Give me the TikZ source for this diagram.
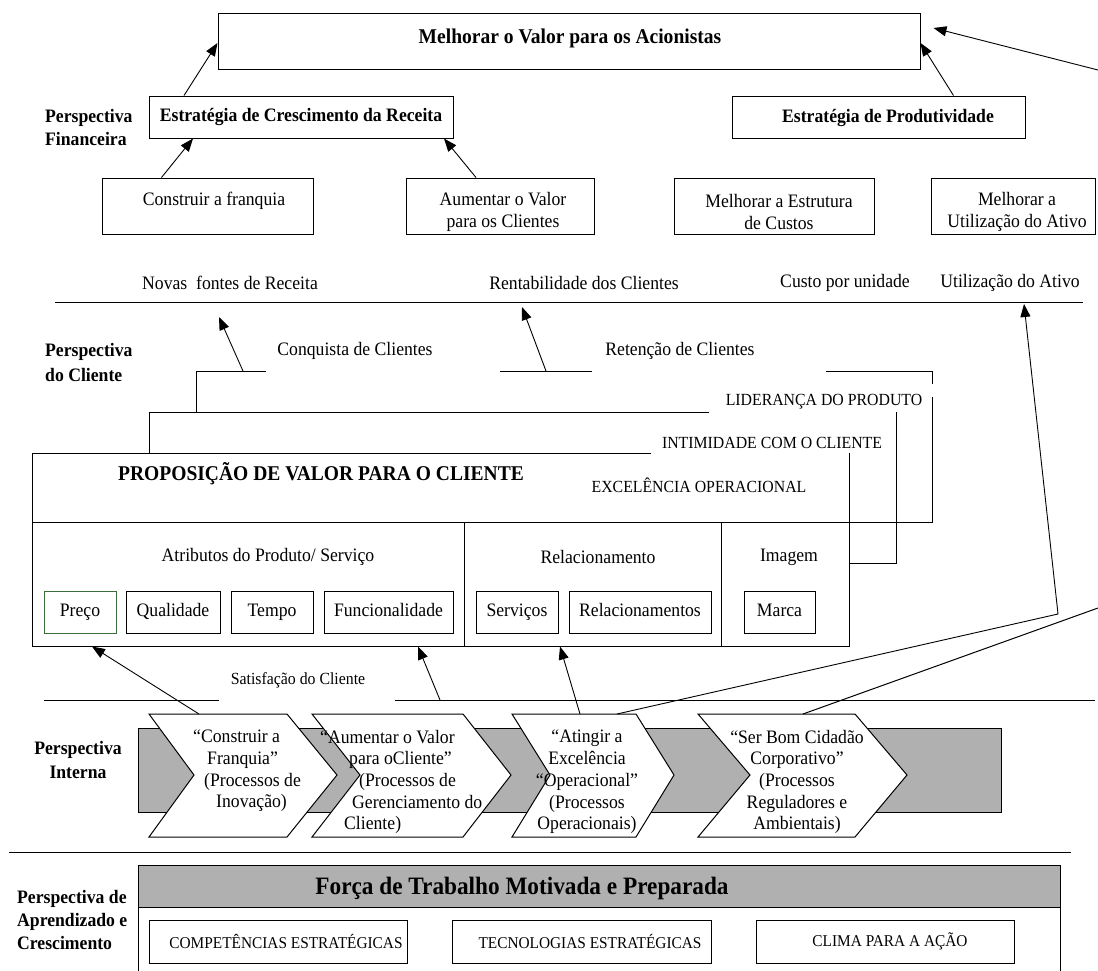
\documentclass[tikz,border=0pt]{standalone}
\usepackage{fontspec}
\setmainfont{Liberation Serif}[FakeStretch=0.93]
\usetikzlibrary{arrows.meta,calc}
\definecolor{band}{gray}{0.69}
\definecolor{pgreen}{RGB}{60,110,60}
\newcommand\pfs[2]{\fontsize{#1}{#2}\selectfont}
\begin{document}
\begin{tikzpicture}[x=1pt,y=-1pt,
  every node/.style={inner sep=0pt},
  line/.style={line width=1pt, draw=black},
  box/.style={draw=black, line width=1pt, fill=white},
  sbox/.style={draw=black, line width=1pt, fill=white, minimum height=42pt,
    font=\pfs{19}{21.7}, text height=13pt, text depth=4pt},
  lbox/.style={draw=black, line width=1pt, fill=white, minimum height=43pt},
  chev/.style={draw=black, line width=1pt, fill=white, line join=miter},
  arr/.style={line width=0.9pt, -{Triangle[length=13pt,width=10pt]}},
  reg/.style={font=\pfs{19}{21.7}},
  bld/.style={font=\bfseries\pfs{19}{23}},
  big/.style={font=\bfseries\pfs{21}{24}},
  caps/.style={font=\pfs{17}{20}},
  scaps/.style={font=\pfs{16.5}{19}},
]
\fill[white] (0,0) rectangle (1098,970);
\useasboundingbox (0,0) rectangle (1098,970);

% ---------- financial perspective ----------
\node[box, minimum width=702pt, minimum height=56pt] (T) at (569,41) {};
\node[big] (Tt) at (570,38) {Melhorar o Valor para os Acionistas};

\node[box, bld, minimum width=304pt, minimum height=42pt] (ECR) at (301,117)
  {Estratégia de Crescimento da Receita};
\node[box, minimum width=293pt, minimum height=42pt] (EP) at (878.5,117) {};
\node[bld] (EPt) at (888,118) {Estratégia de Produtividade};

\node[bld, align=left, anchor=west] (pf) at (45,127) {Perspectiva\\Financeira};

\node[box, minimum width=211pt, minimum height=56pt] (CF) at (207.5,206) {};
\node[reg] (CFt) at (214,201) {Construir a franquia};
\node[box, minimum width=188pt, minimum height=56pt] (AV) at (500,206) {};
\node[reg, align=center] (AVt) at (503,212) {Aumentar o Valor\\para os Clientes};
\node[box, minimum width=200pt, minimum height=56pt] (ME) at (774,206) {};
\node[reg, align=center] (MEt) at (779,212) {Melhorar a Estrutura\\de Custos};
\node[box, minimum width=164pt, minimum height=56pt] (MU) at (1013,206) {};
\node[reg, align=center] (MUt) at (1017,212) {Melhorar a\\Utilização do Ativo};

\draw[arr] ([xshift=-117pt]ECR.north) -- ([yshift=-2pt]T.west);
\draw[arr] ([xshift=75pt]EP.north) -- ([yshift=-2pt]T.east);
\draw[arr] ([xshift=-46pt]CF.north) -- ([xshift=-108pt]ECR.south);
\draw[arr] ([xshift=-24pt]AV.north) -- ([xshift=143pt]ECR.south);

\node[reg] (nfr) at (230,283) {Novas\ \ fontes de Receita};
\node[reg] (rdc) at (584,283) {Rentabilidade dos Clientes};
\node[reg] (cpu) at (845,283) {Custo por unidade};
\node[reg] (uda) at (1010,283) {Utilização do Ativo};

\draw[line] (55,302) -- (1083,302);

% ---------- customer perspective ----------
\node[bld, align=left, anchor=west, font=\bfseries\pfs{19}{25}] (pc) at (45,362) {Perspectiva\\do Cliente};
\node[reg] (cq) at (355,351) {Conquista de Clientes};
\node[reg] (rt) at (680,351) {Retenção de Clientes};

% stacked value-proposition sheets (visible edges only)
\draw[line] (196,412) -- (196,371) -- (266,371);
\draw[line] (500,371) -- (592,371);
\draw[line] (826,371) -- (932,371) -- (932,384);
\draw[line] (932,397) -- (932,522) -- (849,522);
\draw[line] (149,453) -- (149,412) -- (709,412);
\draw[line] (849,563) -- (896,563) -- (896,412);
\draw[line] (651,453) -- (32,453) -- (32,646) -- (849,646) -- (849,453);
\draw[line] (32,522) -- (849,522);
\draw[line] (464,522) -- (464,646);
\draw[line] (721,522) -- (721,646);

\node[caps] (lid) at (824,402) {LIDERANÇA DO PRODUTO};
\node[caps] (int) at (772,443) {INTIMIDADE COM O CLIENTE};
\node[caps] (exc) at (699,485) {EXCELÊNCIA OPERACIONAL};
\node[big] (pvc) at (321,474) {PROPOSIÇÃO DE VALOR PARA O CLIENTE};

\node[reg] (atr) at (268,557) {Atributos do Produto/ Serviço};
\node[reg] (rel) at (598,557) {Relacionamento};
\node[reg] (img) at (789,557) {Imagem};

\node[sbox, draw=pgreen, minimum width=72pt] (pre) at (80,612) {Preço};
\node[sbox, minimum width=94pt] (qua) at (173,612) {Qualidade};
\node[sbox, minimum width=82pt] (tem) at (272,612) {Tempo};
\node[sbox, minimum width=129pt] (fun) at (388.5,612) {Funcionalidade};
\node[sbox, minimum width=82pt] (ser) at (517,612) {Serviços};
\node[sbox, minimum width=142pt] (rls) at (640,612) {Relacionamentos};
\node[sbox, minimum width=71pt] (mar) at (779.5,612) {Marca};

\coordinate (cqa) at (243,371);
\coordinate (cqb) at (219,317);
\coordinate (rta) at (546,371);
\coordinate (rtb) at (522,307);
\draw[arr] (cqa) -- (cqb);
\draw[arr] (rta) -- (rtb);

\node[font=\pfs{17}{20}] (sat) at (298,680) {Satisfação do Cliente};
\draw[line] (44,700) -- (219,700);
\draw[line] (395,700) -- (1095,700);

% ---------- internal perspective ----------
\node[bld, align=center, font=\bfseries\pfs{19}{24}] (pi) at (78,760) {Perspectiva\\Interna};

\draw[line, fill=band] (138,728) rectangle (1001,812);
\draw[chev] (149,714) -- (287,714) -- (337,775) -- (287,837) -- (149,837) -- (194,775) -- cycle;
\draw[chev] (312,714) -- (463,714) -- (511,775) -- (463,837) -- (312,837) -- (360,775) -- cycle;
\draw[chev] (512,714) -- (636,714) -- (674,775) -- (636,837) -- (512,837) -- (550,775) -- cycle;
\draw[chev] (698,714) -- (855,714) -- (907,775) -- (855,837) -- (698,837) -- (750,775) -- cycle;

\node[reg, align=left, anchor=west] (c1) at (193,771)
  {“Construir a\\\hspace*{14pt}Franquia”\\\hspace*{11pt}(Processos de\\\hspace*{23pt}Inovação)};
\node[reg, align=left, anchor=west] (c2) at (320,782)
  {“Aumentar o Valor\\\hspace*{29pt}para oCliente”\\\hspace*{39pt}(Processos de\\\hspace*{32pt}Gerenciamento do\\\hspace*{24pt}Cliente)};
\node[reg, align=center] (c3) at (587,782)
  {“Atingir a\\Excelência\\“Operacional”\\(Processos\\Operacionais)};
\node[reg, align=center] (c4) at (797,782)
  {“Ser Bom Cidadão\\Corporativo”\\(Processos\\Reguladores e\\Ambientais)};

\coordinate (ch1a) at (199,714);
\coordinate (sa2) at (440,700);
\coordinate (ch3a) at (580,714);
\coordinate (ch3b) at (617,714);
\coordinate (ucor) at (1058,614);
\coordinate (utip) at (1024,304);
\coordinate (ch4a) at (803,714);
\coordinate (xr2) at (1098,608);
\coordinate (xr1) at (1098,70);

\draw[arr] (ch1a) -- ([xshift=12pt,yshift=-13pt]pre.south);
\draw[arr] (sa2) -- ([xshift=29.5pt,yshift=-13pt]fun.south);
\draw[arr] (ch3a) -- ([xshift=43pt,yshift=-13pt]ser.south);
\draw[arr] (ch3b) -- (ucor) -- (utip);
\draw[line] (ch4a) -- (xr2);
\draw[arr] (xr1) -- ([xshift=13pt,yshift=13pt]T.east);

% ---------- learning and growth ----------
\draw[line] (9,852) -- (1071,852);
\node[bld, align=left, anchor=west] (pa) at (17,920) {Perspectiva de\\Aprendizado e\\Crescimento};

\node[draw=black, line width=1pt, fill=band, minimum width=922pt, minimum height=42pt] (ftb) at (599,886) {};
\node[font=\bfseries\pfs{25}{28}] (ftt) at (522,888) {Força de Trabalho Motivada e Preparada};
\draw[line] (138,907) -- (138,975);
\draw[line] (1060,907) -- (1060,975);

\node[lbox, minimum width=258pt] (cmp) at (278,941.5) {};
\node[scaps] (cmpt) at (286,941) {COMPETÊNCIAS ESTRATÉGICAS};
\node[lbox, minimum width=259pt] (tec) at (581.5,941.5) {};
\node[scaps] (tect) at (590,941) {TECNOLOGIAS ESTRATÉGICAS};
\node[lbox, minimum width=258pt] (cli) at (885,941.5) {};
\node[scaps] (clit) at (890,941) {CLIMA PARA A AÇÃO};
\end{tikzpicture}
\end{document}
